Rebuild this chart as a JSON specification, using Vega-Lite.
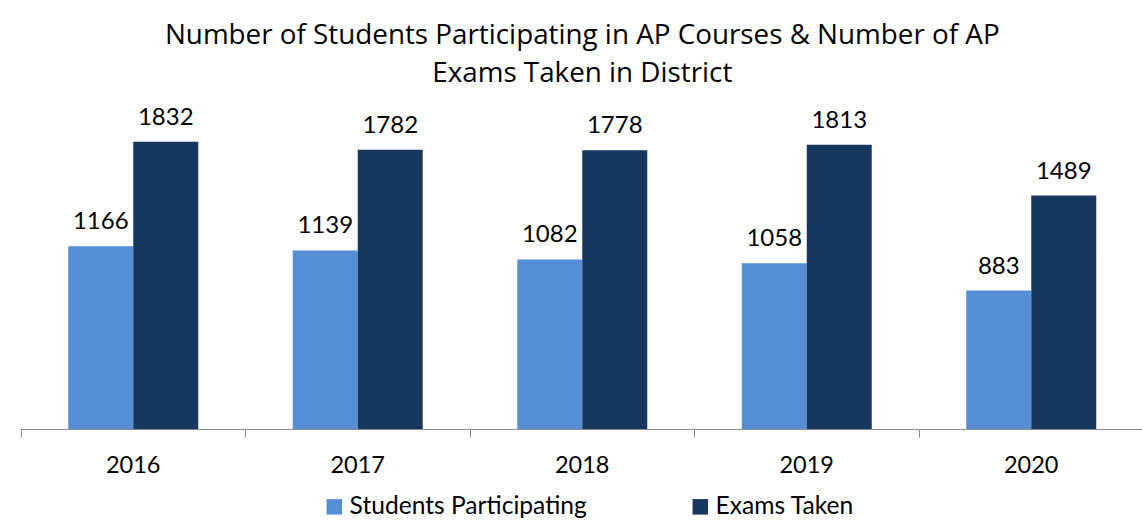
{
  "$schema": "https://vega.github.io/schema/vega-lite/v6.json",
  "width": 1122.5,
  "height": 313.5,
  "autosize": {"type": "none"},
  "padding": {"left": 21, "top": 115.5, "right": 0, "bottom": 99.5},
  "background": "white",
  "title": {
    "text": ["Number of Students Participating in AP Courses & Number of AP", "Exams Taken in District"],
    "font": "Open Sans",
    "fontSize": 27.8,
    "fontWeight": "normal",
    "color": "black",
    "lineHeight": 38,
    "offset": 18,
    "anchor": "middle",
    "frame": "group"
  },
  "data": {
    "values": [
      {"year": "2016", "series": "Students Participating", "value": 1166},
      {"year": "2016", "series": "Exams Taken", "value": 1832},
      {"year": "2017", "series": "Students Participating", "value": 1139},
      {"year": "2017", "series": "Exams Taken", "value": 1782},
      {"year": "2018", "series": "Students Participating", "value": 1082},
      {"year": "2018", "series": "Exams Taken", "value": 1778},
      {"year": "2019", "series": "Students Participating", "value": 1058},
      {"year": "2019", "series": "Exams Taken", "value": 1813},
      {"year": "2020", "series": "Students Participating", "value": 883},
      {"year": "2020", "series": "Exams Taken", "value": 1489}
    ]
  },
  "encoding": {
    "x": {
      "field": "year",
      "type": "nominal",
      "scale": {"paddingInner": 0, "paddingOuter": 0},
      "axis": {
        "title": null,
        "labelAngle": 0,
        "labelFont": "Lato",
        "labelFontSize": 23.5,
        "labelColor": "black",
        "labelPadding": 16,
        "tickSize": 8,
        "tickColor": "#8c8c8c",
        "domainColor": "#8c8c8c",
        "domainWidth": 1,
        "tickWidth": 1,
        "bandPosition": 0,
        "grid": false
      }
    },
    "xOffset": {
      "field": "series",
      "type": "nominal",
      "sort": ["Students Participating", "Exams Taken"],
      "scale": {"paddingInner": 0, "paddingOuter": 0.727}
    },
    "y": {
      "field": "value",
      "type": "quantitative",
      "scale": {"domain": [0, 2000], "nice": false},
      "axis": null
    }
  },
  "layer": [
    {
      "mark": {"type": "bar"},
      "encoding": {
        "color": {
          "field": "series",
          "type": "nominal",
          "scale": {"domain": ["Students Participating", "Exams Taken"], "range": ["#558ED5", "#17375E"]},
          "legend": {
            "title": null,
            "orient": "none",
            "legendX": 301,
            "legendY": 379,
            "direction": "horizontal",
            "symbolType": "square",
            "symbolSize": 240,
            "symbolStrokeWidth": 0,
            "labelFont": "Lato",
            "labelFontSize": 24.6,
            "labelColor": "black",
            "labelOffset": 3,
            "labelLimit": 500,
            "columnPadding": 101
          }
        }
      }
    },
    {
      "mark": {"type": "text", "baseline": "alphabetic", "dy": -17, "font": "Lato", "fontSize": 24, "color": "black"},
      "encoding": {
        "text": {"field": "value", "type": "quantitative", "format": "d"}
      }
    }
  ],
  "config": {"view": {"stroke": null}}
}
